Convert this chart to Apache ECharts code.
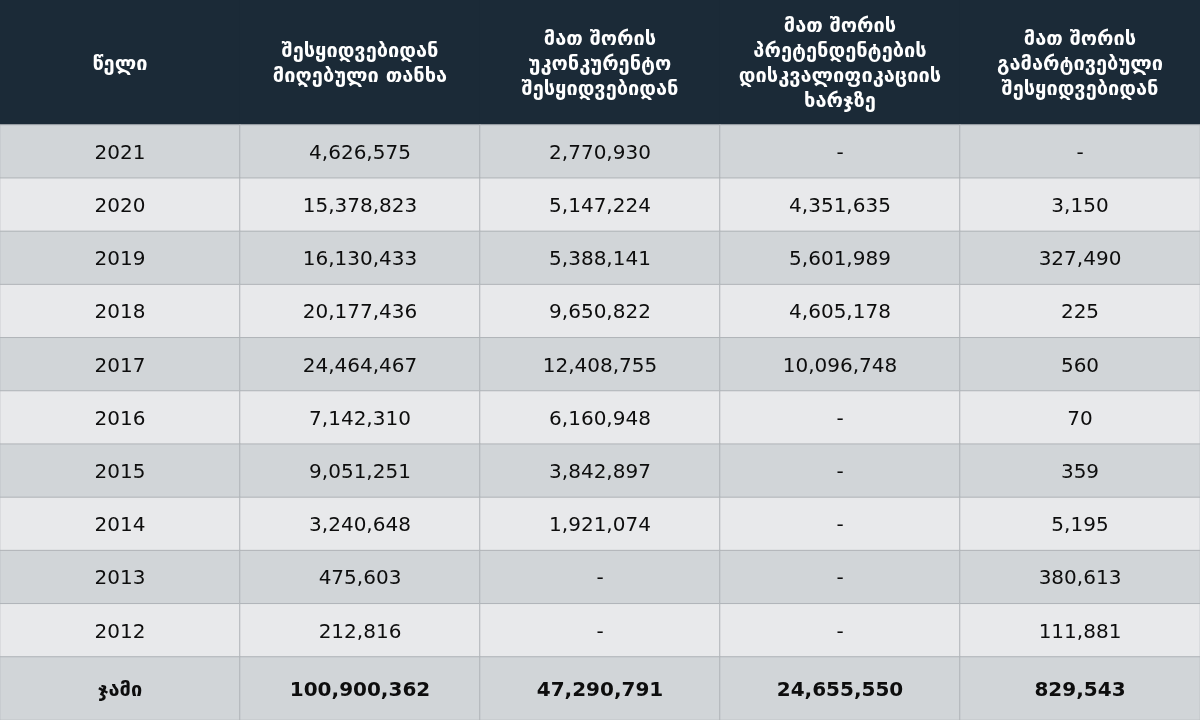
<!DOCTYPE html>
<html>
<head>
<meta charset="utf-8">
<script src="https://cdn.jsdelivr.net/npm/echarts@6/dist/echarts.min.js"></script>
<style>
  html, body { margin: 0; padding: 0; background: #fff; }
  #main { width: 1200px; height: 720px; }
</style>
</head>
<body>
<div id="main"></div>
<script>
// column headers
const headers = [
  'წელი',
  'შესყიდვებიდან\nმიღებული თანხა',
  'მათ შორის\nუკონკურენტო\nშესყიდვებიდან',
  'მათ შორის\nპრეტენდენტების\nდისკვალიფიკაციის\nხარჯზე',
  'მათ შორის\nგამარტივებული\nშესყიდვებიდან'
];

const years = ['2021', '2020', '2019', '2018', '2017', '2016', '2015', '2014', '2013', '2012'];
const receivedAmount = [4626575, 15378823, 16130433, 20177436, 24464467, 7142310, 9051251, 3240648, 475603, 212816];
const nonCompetitive = [2770930, 5147224, 5388141, 9650822, 12408755, 6160948, 3842897, 1921074, null, null];
const disqualification = [null, 4351635, 5601989, 4605178, 10096748, null, null, null, null, null];
const simplified = [null, 3150, 327490, 225, 560, 70, 359, 5195, 380613, 111881];

const totalLabel = 'ჯამი';
const totals = [100900362, 47290791, 24655550, 829543];

const FONT = '"DejaVu Sans", sans-serif';

function fmt(v) {
  if (v === null || v === undefined) return '-';
  return String(v).replace(/\B(?=(\d{3})+(?!\d))/g, ',');
}

// 表头
const headerData = headers.map(function (h, i) {
  return { name: h, value: [i, 0, 1] };
});

// 表体
const columns = [receivedAmount, nonCompetitive, disqualification, simplified];
const bodyData = [];
years.forEach(function (y, r) {
  const bg = r % 2 === 0 ? '#d1d5d8' : '#e8e9eb';
  bodyData.push({ name: y, value: [0, r, 1], itemStyle: { color: bg } });
  columns.forEach(function (col, c) {
    bodyData.push({ name: fmt(col[r]), value: [c + 1, r, 1], itemStyle: { color: bg } });
  });
});

// 合计
const totalData = [{ name: totalLabel, value: [0, 0, 1] }];
totals.forEach(function (t, c) {
  totalData.push({ name: fmt(t), value: [c + 1, 0, 1] });
});

const colCats = headers.map(function (h, i) { return 'c' + i; });

function hiddenAxis(idx, data, isY) {
  return {
    type: 'category', gridIndex: idx, data: data, inverse: !!isY,
    show: false, axisLine: { show: false }, axisTick: { show: false },
    axisLabel: { show: false }, splitLine: { show: false }
  };
}

const option = {
  animation: false,
  backgroundColor: '#ffffff',
  grid: [
    { left: 0, right: 0, top: 0, height: 125 },
    { left: 0, right: 0, top: 125, height: 532 },
    { left: 0, right: 0, top: 657, height: 63 }
  ],
  xAxis: [hiddenAxis(0, colCats), hiddenAxis(1, colCats), hiddenAxis(2, colCats)],
  yAxis: [hiddenAxis(0, ['h'], true), hiddenAxis(1, years, true), hiddenAxis(2, ['t'], true)],
  series: [
    {
      type: 'heatmap', xAxisIndex: 0, yAxisIndex: 0, data: headerData,
      itemStyle: { color: '#1b2a37', borderWidth: 0 },
      label: {
        show: true, formatter: '{b}', color: '#ffffff', fontFamily: FONT,
        fontWeight: 'bold', fontSize: 20, lineHeight: 25, offset: [0, 2]
      },
      emphasis: { disabled: true }
    },
    {
      type: 'heatmap', xAxisIndex: 1, yAxisIndex: 1, data: bodyData,
      itemStyle: { borderColor: '#b0b4b8', borderWidth: 1 },
      label: {
        show: true, formatter: '{b}', color: '#0d0d0d', fontFamily: FONT,
        fontSize: 20, offset: [0, 2]
      },
      emphasis: { disabled: true }
    },
    {
      type: 'heatmap', xAxisIndex: 2, yAxisIndex: 2, data: totalData,
      itemStyle: { color: '#d1d5d8', borderColor: '#b0b4b8', borderWidth: 1 },
      label: {
        show: true, formatter: '{b}', color: '#0d0d0d', fontFamily: FONT,
        fontSize: 20, fontWeight: 'bold', offset: [0, 2]
      },
      emphasis: { disabled: true }
    }
  ]
};

const myChart = echarts.init(document.getElementById('main'));
myChart.setOption(option);
</script>
</body>
</html>
